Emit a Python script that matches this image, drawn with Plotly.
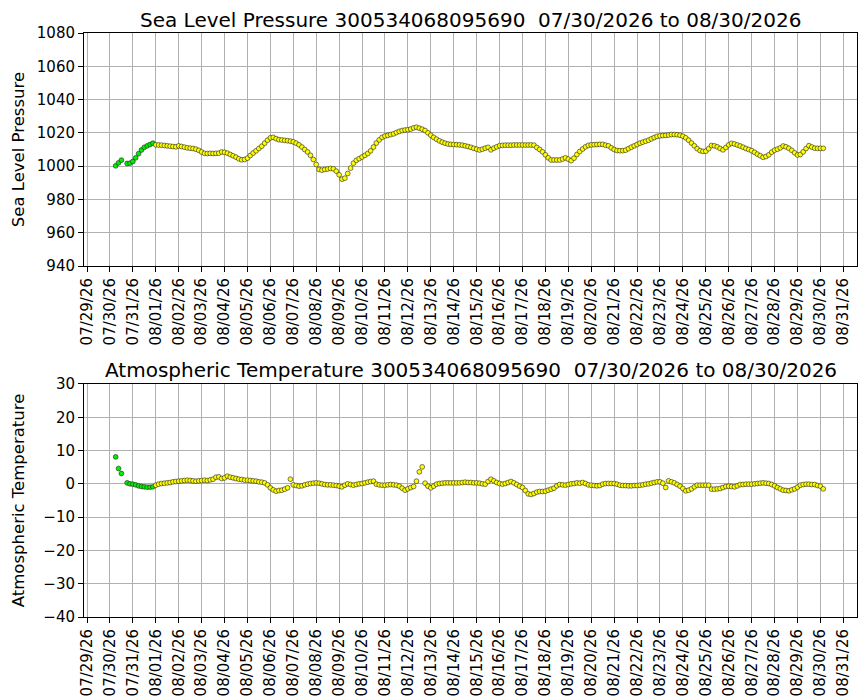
import pandas as pd
import plotly.graph_objects as go

# ---- data (3-hourly readings from 07/30/2026 06:00) ----
start_time = "2026-07-30 06:00"
step = "3h"
green_until = "2026-08-01 00:00"

pressure = [
    1000.2, 1002.0, 1003.6, None, 1001.6, 1001.8,                      # 07/30
    1002.8, 1005.0, 1007.5, 1009.7, 1011.3, 1012.2, 1013.0, 1013.8,    # 07/31
    1012.8, 1012.7, 1012.6, 1012.4, 1012.2, 1012.0, 1011.8, 1011.6,    # 08/01
    1012.2, 1011.8, 1011.4, 1011.0, 1010.8, 1010.6, 1010.2, 1009.5,    # 08/02
    1008.5, 1007.7, 1007.6, 1007.7, 1007.6, 1007.7, 1007.8, 1008.5,    # 08/03
    1008.3, 1007.8, 1007.0, 1006.2, 1005.4, 1004.4, 1003.8, 1004.0,    # 08/04
    1004.8, 1006.4, 1007.9, 1009.2, 1010.6, 1012.0, 1013.8, 1015.6,    # 08/05
    1017.0, 1017.3, 1016.5, 1015.9, 1015.7, 1015.5, 1015.3, 1015.0,    # 08/06
    1014.6, 1013.8, 1012.8, 1011.5, 1010.0, 1008.5, 1006.5, 1004.0,    # 08/07
    1001.0, 998.0, 997.6, 998.0, 998.3, 998.6, 998.4, 997.0,           # 08/08
    994.8, 992.2, 992.8, 995.6, 998.8, 1001.8, 1003.5, 1004.5,         # 08/09
    1005.5, 1006.5, 1007.6, 1009.2, 1011.5, 1013.9, 1015.8, 1017.3,    # 08/10
    1018.1, 1018.5, 1019.0, 1019.4, 1020.2, 1020.9, 1021.4, 1021.7,    # 08/11
    1021.9, 1022.3, 1023.0, 1023.4, 1022.8, 1022.2, 1021.4, 1020.0,    # 08/12
    1018.6, 1017.3, 1016.2, 1015.2, 1014.4, 1013.8, 1013.3, 1013.1,    # 08/13
    1013.0, 1012.9, 1012.8, 1012.6, 1012.2, 1011.8, 1011.3, 1010.7,    # 08/14
    1010.2, 1009.7, 1010.2, 1010.8, 1011.3, 1009.8, 1010.8, 1011.6,    # 08/15
    1012.3, 1012.5, 1012.6, 1012.6, 1012.6, 1012.7, 1012.7, 1012.7,    # 08/16
    1012.7, 1012.7, 1012.7, 1012.7, 1012.6, 1011.2, 1010.0, 1008.6,    # 08/17
    1006.8, 1005.0, 1003.7, 1003.7, 1003.7, 1003.7, 1004.3, 1005.0,    # 08/18
    1004.2, 1003.3, 1004.8, 1007.0, 1008.8, 1010.3, 1011.6, 1012.5,    # 08/19
    1012.8, 1012.9, 1013.0, 1013.1, 1013.1, 1012.6, 1012.2, 1011.0,    # 08/20
    1010.0, 1009.4, 1009.3, 1009.3, 1009.6, 1010.5, 1011.4, 1012.2,    # 08/21
    1013.0, 1013.8, 1014.4, 1015.0, 1015.6, 1016.4, 1017.2, 1017.9,    # 08/22
    1018.2, 1018.4, 1018.5, 1018.7, 1019.0, 1019.0, 1018.9, 1018.6,    # 08/23
    1018.0, 1017.0, 1015.6, 1013.9, 1012.2, 1010.5, 1009.3, 1008.9,    # 08/24
    1009.0, 1010.5, 1012.4, 1012.2, 1011.6, 1010.6, 1009.8, 1011.2,    # 08/25
    1012.8, 1013.7, 1013.3, 1012.7, 1012.1, 1011.4, 1010.6, 1010.0,    # 08/26
    1009.3, 1008.3, 1007.2, 1006.3, 1005.3, 1005.8, 1006.8, 1008.4,    # 08/27
    1009.6, 1010.2, 1011.0, 1012.1, 1011.6, 1010.7, 1009.5, 1008.0,    # 08/28
    1006.7, 1007.0, 1008.6, 1010.6, 1012.3, 1011.5, 1010.8, 1010.7,    # 08/29
    1010.7, 1010.7,                                                    # 08/30
]

temperature = [
    8.1, 4.6, 3.1, None, 0.3, 0.0,                     # 07/30
    -0.1, -0.3, -0.6, -0.8, -0.9, -1.0, -1.0, -0.9,    # 07/31
    -0.4, -0.1, 0.1, 0.2, 0.3, 0.4, 0.6, 0.7,          # 08/01
    0.8, 0.9, 1.0, 1.1, 1.0, 0.9, 0.8, 0.9,            # 08/02
    1.0, 1.1, 1.0, 1.2, 1.4, 2.0, 2.1, 1.6,            # 08/03
    1.8, 2.3, 2.0, 1.8, 1.6, 1.4, 1.3, 1.1,            # 08/04
    1.1, 1.0, 0.9, 0.8, 0.6, 0.5, 0.3, -0.3,           # 08/05
    -1.2, -1.8, -2.2, -2.0, -1.9, -1.6, -1.2, 1.4,     # 08/06
    -0.3, -0.5, -0.7, -0.6, -0.3, -0.1, 0.1, 0.2,      # 08/07
    0.3, 0.2, 0.0, -0.2, -0.3, -0.3, -0.4, -0.5,       # 08/08
    -0.7, -0.9, -0.4, 0.0, -0.2, -0.4, -0.2, 0.0,      # 08/09
    0.1, 0.3, 0.5, 0.7, 0.8, -0.1, -0.3, -0.4,         # 08/10
    -0.4, -0.3, -0.2, -0.3, -0.4, -0.7, -1.3, -1.9,    # 08/11
    -1.5, -1.1, -0.8, 0.8, 3.6, 5.1, 0.2, -0.7,        # 08/12
    -1.2, -0.7, -0.1, 0.1, 0.2, 0.3, 0.3, 0.3,         # 08/13
    0.3, 0.3, 0.3, 0.4, 0.5, 0.4, 0.4, 0.3,            # 08/14
    0.3, 0.2, 0.0, -0.1, 0.7, 1.4, 0.9, 0.4,           # 08/15
    0.1, -0.1, 0.1, 0.4, 0.7, 0.3, -0.2, -0.7,         # 08/16
    -1.1, -2.0, -3.0, -3.2, -2.9, -2.5, -2.3, -2.3,    # 08/17
    -2.2, -1.9, -1.6, -1.3, -0.6, -0.2, -0.3, -0.4,    # 08/18
    -0.2, 0.0, 0.1, 0.3, 0.2, 0.4, 0.1, -0.3,          # 08/19
    -0.4, -0.5, -0.6, -0.5, -0.1, 0.1, 0.1, 0.1,       # 08/20
    0.1, -0.1, -0.4, -0.5, -0.5, -0.6, -0.6, -0.5,     # 08/21
    -0.5, -0.4, -0.3, -0.1, 0.0, 0.2, 0.4, 0.6,        # 08/22
    0.6, 0.2, -1.1, 0.9, 0.6, 0.3, -0.2, -0.7,         # 08/23
    -1.4, -2.1, -1.9, -1.5, -0.9, -0.4, -0.4, -0.4,    # 08/24
    -0.4, -0.4, -1.6, -1.6, -1.5, -1.4, -1.1, -0.8,    # 08/25
    -0.7, -0.8, -0.9, -0.6, -0.2, -0.2, -0.1, -0.1,    # 08/26
    -0.1, 0.0, 0.1, 0.2, 0.3, 0.2, 0.1, -0.2,          # 08/27
    -0.6, -1.1, -1.5, -1.9, -2.0, -2.1, -1.8, -1.5,    # 08/28
    -1.0, -0.4, -0.2, -0.1, -0.1, -0.2, -0.2, -0.5,    # 08/29
    -0.7, -1.5,                                        # 08/30
]

title_top = "Sea Level Pressure 300534068095690  07/30/2026 to 08/30/2026"
title_bottom = "Atmospheric Temperature 300534068095690  07/30/2026 to 08/30/2026"
ylabel_top = "Sea Level Pressure"
ylabel_bottom = "Atmospheric Temperature"

# ---- build ----
times = pd.date_range(start_time, periods=len(pressure), freq=step)
is_green = times < pd.Timestamp(green_until)

FONT = "DejaVu Sans, Liberation Sans, sans-serif"
YELLOW = "#ffff00"
GREEN = "#00ee00"


def add_series(fig, values, xa, ya):
    s = pd.Series(values, index=times, dtype="float")
    for mask, color in ((is_green, GREEN), (~is_green, YELLOW)):
        sub = s[mask]
        fig.add_trace(go.Scatter(
            x=sub.index, y=sub.values, mode="markers", xaxis=xa, yaxis=ya,
            marker=dict(size=4.8, color=color, line=dict(color="#222222", width=0.6)),
            showlegend=False, hoverinfo="x+y"))


fig = go.Figure()
add_series(fig, pressure, "x", "y")
add_series(fig, temperature, "x2", "y2")

xrange_ = ["2026-07-28 20:50", "2026-08-31 14:20"]
common_x = dict(
    range=xrange_, type="date", tick0="2026-07-29", dtick=86400000,
    tickformat="%m/%d/%y", tickangle=-90, ticks="outside", ticklen=5,
    tickwidth=1, tickcolor="black", showgrid=True, gridcolor="#b0b0b0",
    gridwidth=1, showline=True, linecolor="black", linewidth=1, mirror=True,
    zeroline=False, automargin=False,
    tickfont=dict(family=FONT, size=15, color="black"))
common_y = dict(
    ticks="outside", ticklen=5, tickwidth=1, tickcolor="black",
    showgrid=True, gridcolor="#b0b0b0", gridwidth=1, showline=True,
    linecolor="black", linewidth=1, mirror=True, zeroline=False,
    automargin=False,
    tickfont=dict(family=FONT, size=15, color="black"))

# the page body adds an 8px offset, so the figure is 8px smaller and the
# left/top margins are 8px less to put the plot areas where the reference has them
fig.update_layout(
    width=859, height=692,
    margin=dict(l=76, r=10, t=25, b=83, autoexpand=False),
    paper_bgcolor="white", plot_bgcolor="white",
    font=dict(family=FONT, color="black"),
    showlegend=False,
    xaxis=dict(common_x, domain=[0, 1], anchor="y"),
    yaxis=dict(common_y, domain=[0.601, 1.0], anchor="x", range=[940, 1080],
               tick0=940, dtick=20),
    xaxis2=dict(common_x, domain=[0, 1], anchor="y2"),
    yaxis2=dict(common_y, domain=[0.0, 0.399], anchor="x2", range=[-40, 30],
                tick0=-40, dtick=10),
    annotations=[
        dict(text=title_top, xref="paper", yref="paper", x=0.5, y=1.022,
             xanchor="center", yanchor="middle", showarrow=False,
             font=dict(family=FONT, size=20, color="black")),
        dict(text=title_bottom, xref="paper", yref="paper", x=0.5, y=0.4227,
             xanchor="center", yanchor="middle", showarrow=False,
             font=dict(family=FONT, size=20, color="black")),
        dict(text=ylabel_top, xref="paper", yref="paper", x=-0.0845,
             y=0.8005, xanchor="center", yanchor="middle", textangle=-90,
             showarrow=False, font=dict(family=FONT, size=16.5, color="black")),
        dict(text=ylabel_bottom, xref="paper", yref="paper", x=-0.0845,
             y=0.1995, xanchor="center", yanchor="middle", textangle=-90,
             showarrow=False, font=dict(family=FONT, size=16.5, color="black")),
    ],
)

fig.write_html("out.html")
